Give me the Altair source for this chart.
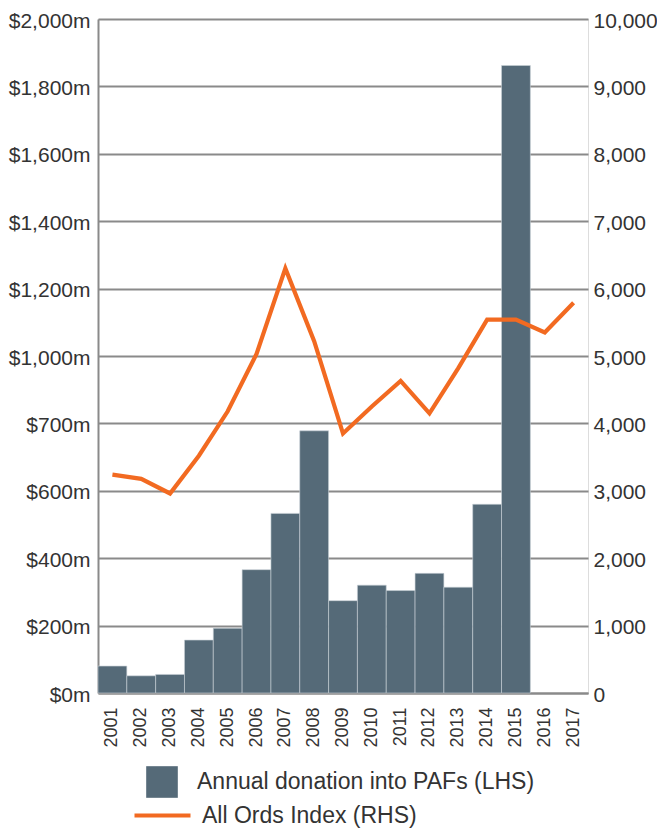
import json
import altair as alt
import pandas as pd

YEARS = [str(y) for y in range(2001, 2018)]
DONATIONS = [80, 51, 55, 157, 192, 366, 533, 778, 274, 320, 304, 355, 314, 560, 1862, None, None]
ALL_ORDS = [3240, 3177, 2960, 3520, 4180, 5030, 6300, 5220, 3850, 4250, 4630, 4150, 4820, 5540, 5540, 5350, 5790]
LEFT_TICKS = [0, 200, 400, 600, 800, 1000, 1200, 1400, 1600, 1800, 2000]
LEFT_LABELS = ["$0m", "$200m", "$400m", "$600m", "$700m", "$1,000m",
               "$1,200m", "$1,400m", "$1,600m", "$1,800m", "$2,000m"]
RIGHT_TICKS = [0, 1000, 2000, 3000, 4000, 5000, 6000, 7000, 8000, 9000, 10000]
BAR_NAME = "Annual donation into PAFs (LHS)"
LINE_NAME = "All Ords Index (RHS)"

df = pd.DataFrame({
    "year": YEARS,
    "donation": DONATIONS,
    "allords": ALL_ORDS,
    "bar_series": [BAR_NAME] * len(YEARS),
    "line_series": [LINE_NAME] * len(YEARS),
})

FONT = "Liberation Sans"
GRAY = "#8a8a8a"
TEXT = "#333333"

x = alt.X("year:N", sort=YEARS, title=None,
          scale=alt.Scale(paddingInner=0, paddingOuter=0),
          axis=alt.Axis(labelAngle=270, labelAlign="right", labelBaseline="middle",
                        ticks=False, labelPadding=14, domainColor=GRAY, domainWidth=2,
                        labelFontSize=18, labelColor=TEXT, labelFont=FONT))

label_expr = json.dumps(LEFT_LABELS) + "[round(datum.value / 200)]"

bars = alt.Chart(df).transform_filter(
    "isValid(datum.donation)"
).mark_bar(stroke="#c9d1d6", strokeWidth=0.6).encode(
    x=x,
    y=alt.Y("donation:Q", title=None,
            scale=alt.Scale(domain=[0, 2000], nice=False),
            axis=alt.Axis(values=LEFT_TICKS, labelExpr=label_expr, orient="left",
                          grid=True, gridColor=GRAY, gridWidth=2, ticks=False,
                          domain=True, domainColor=GRAY, domainWidth=2,
                          labelPadding=8, labelOffset=2, labelFontSize=21,
                          labelColor=TEXT, labelFont=FONT)),
    color=alt.Color("bar_series:N",
                    scale=alt.Scale(domain=[BAR_NAME], range=["#556a78"]),
                    legend=alt.Legend(title=None, orient="none", legendX=48, legendY=747,
                                      symbolType="square", symbolSize=1000,
                                      symbolStrokeWidth=0, symbolOpacity=1,
                                      labelOffset=19, labelFontSize=23, labelFont=FONT,
                                      labelColor=TEXT, padding=0, labelLimit=500)),
)

line = alt.Chart(df).mark_line(strokeWidth=4.2, strokeJoin="miter").encode(
    x=x,
    y=alt.Y("allords:Q", title=None,
            scale=alt.Scale(domain=[0, 10000], nice=False),
            axis=alt.Axis(values=RIGHT_TICKS, format=",.0f", orient="right",
                          grid=False, ticks=False, domain=False, domainOpacity=0,
                          labelPadding=5, labelOffset=2, labelFontSize=21,
                          labelColor=TEXT, labelFont=FONT)),
    color=alt.Color("line_series:N",
                    scale=alt.Scale(domain=[LINE_NAME], range=["#f26a21"]),
                    legend=alt.Legend(title=None, orient="none", legendX=34, legendY=766,
                                      symbolType="stroke", symbolSize=3136,
                                      symbolStrokeWidth=4.2,
                                      labelOffset=9, labelFontSize=23, labelFont=FONT,
                                      labelColor=TEXT, padding=0, labelLimit=500)),
)

chart = alt.layer(bars, line).resolve_scale(
    y="independent", color="independent"
).properties(
    width=490, height=674,
    autosize=alt.AutoSizeParams(type="none"),
    padding={"left": 90, "top": 11, "right": 69, "bottom": 137},
).configure_view(strokeWidth=0, strokeOpacity=0).configure(background="white")

chart.save("out.html", embed_options={"renderer": "svg", "actions": False})
